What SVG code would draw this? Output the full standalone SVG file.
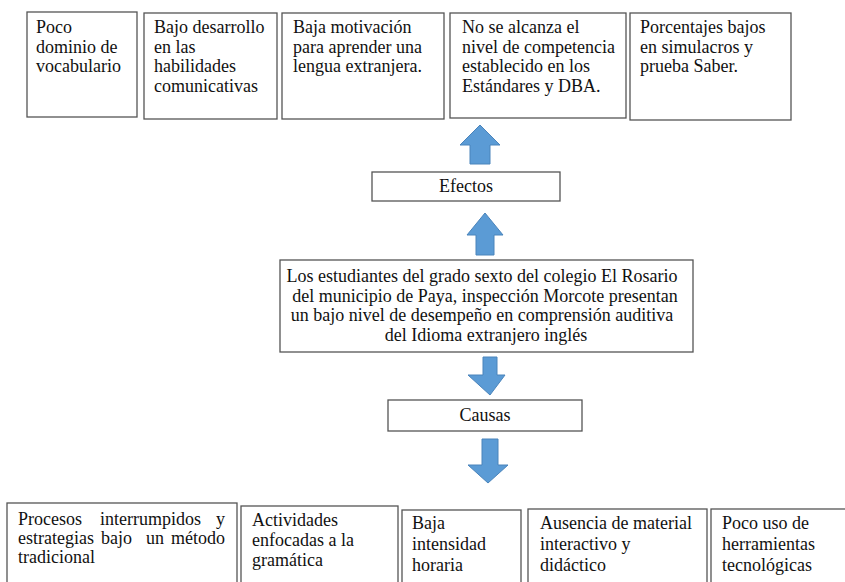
<svg xmlns="http://www.w3.org/2000/svg" width="845" height="582" viewBox="0 0 845 582">
<style>
.box{fill:#fff;stroke:#555;stroke-width:1.3}
.t{font-family:'Liberation Serif','Times New Roman',serif;font-size:18px;fill:#111}
.c{text-anchor:middle}
.arrow{fill:#5b9bd5;stroke:#4a84bb;stroke-width:1}
</style>
<rect width="845" height="582" fill="#fff"/>
<g id="e1"><rect class="box" x="27" y="12" width="110" height="105"/>
<text class="t" x="36" y="33">Poco</text><text class="t" x="36" y="52.5">dominio de</text><text class="t" x="36" y="72">vocabulario</text></g>
<g id="e2"><rect class="box" x="144" y="13" width="133" height="106"/>
<text class="t" x="154" y="33">Bajo desarrollo</text><text class="t" x="154" y="52.5">en las</text><text class="t" x="154" y="72">habilidades</text><text class="t" x="154" y="91.5">comunicativas</text></g>
<g id="e3"><rect class="box" x="282" y="13" width="162" height="106"/>
<text class="t" x="293" y="33">Baja motivación</text><text class="t" x="293" y="52.5">para aprender una</text><text class="t" x="293" y="72">lengua extranjera.</text></g>
<g id="e4"><rect class="box" x="450" y="13" width="176" height="105"/>
<text class="t" x="462" y="33">No se alcanza el</text><text class="t" x="462" y="52.5">nivel de competencia</text><text class="t" x="462" y="72">establecido en los</text><text class="t" x="462" y="91.5">Estándares y DBA.</text></g>
<g id="e5"><rect class="box" x="630" y="13" width="161" height="107"/>
<text class="t" x="640" y="33">Porcentajes bajos</text><text class="t" x="640" y="52.5">en simulacros y</text><text class="t" x="640" y="72">prueba Saber.</text></g>
<g id="efectos"><rect class="box" x="372" y="172" width="188" height="29"/>
<text class="t c" x="466" y="192">Efectos</text></g>
<g id="problema"><rect class="box" x="280" y="260" width="413" height="92"/>
<text class="t c" x="482" y="282">Los estudiantes del grado sexto del colegio El Rosario</text>
<text class="t c" x="485" y="301.5">del municipio de Paya, inspección Morcote presentan</text>
<text class="t c" x="482" y="321">un bajo nivel de desempeño en comprensión auditiva</text>
<text class="t c" x="486" y="340.5">del Idioma extranjero inglés</text></g>
<g id="causas"><rect class="box" x="388" y="400" width="194" height="31"/>
<text class="t c" x="485" y="421">Causas</text></g>
<g id="c1"><rect class="box" x="7" y="503" width="230" height="90"/>
<text class="t" x="18" y="525">Procesos</text><text class="t" x="100" y="525">interrumpidos</text><text class="t" x="225" y="525" text-anchor="end">y</text>
<text class="t" x="18" y="544">estrategias</text><text class="t" x="101" y="544">bajo</text><text class="t" x="146" y="544">un</text><text class="t" x="225" y="544" text-anchor="end">método</text>
<text class="t" x="18" y="563">tradicional</text></g>
<g id="c2"><rect class="box" x="241" y="506" width="157" height="90"/>
<text class="t" x="252" y="526">Actividades</text><text class="t" x="252" y="546">enfocadas a la</text><text class="t" x="252" y="566">gramática</text></g>
<g id="c3"><rect class="box" x="402" y="510" width="119" height="90"/>
<text class="t" x="412" y="529">Baja</text><text class="t" x="412" y="550">intensidad</text><text class="t" x="412" y="571">horaria</text></g>
<g id="c4"><rect class="box" x="528" y="509" width="179" height="90"/>
<text class="t" x="540" y="529">Ausencia de material</text><text class="t" x="540" y="550">interactivo y</text><text class="t" x="540" y="571">didáctico</text></g>
<g id="c5"><rect class="box" x="711" y="509" width="150" height="90"/>
<text class="t" x="722" y="529">Poco uso de</text><text class="t" x="722" y="550">herramientas</text><text class="t" x="722" y="571">tecnológicas</text></g>
<g id="connectors">
<polygon class="arrow" points="480,125 500,145 490,145 490,164 470,164 470,145 460,145"/>
<polygon class="arrow" points="485,213 503,235 494,235 494,255 476,255 476,235 467,235"/>
<polygon class="arrow" points="483,357 497,357 497,375 505,375 490,395 468,375 483,375"/>
<polygon class="arrow" points="482,439 498,439 498,465 508,465 488,483 468,465 482,465"/>
</g>
</svg>
